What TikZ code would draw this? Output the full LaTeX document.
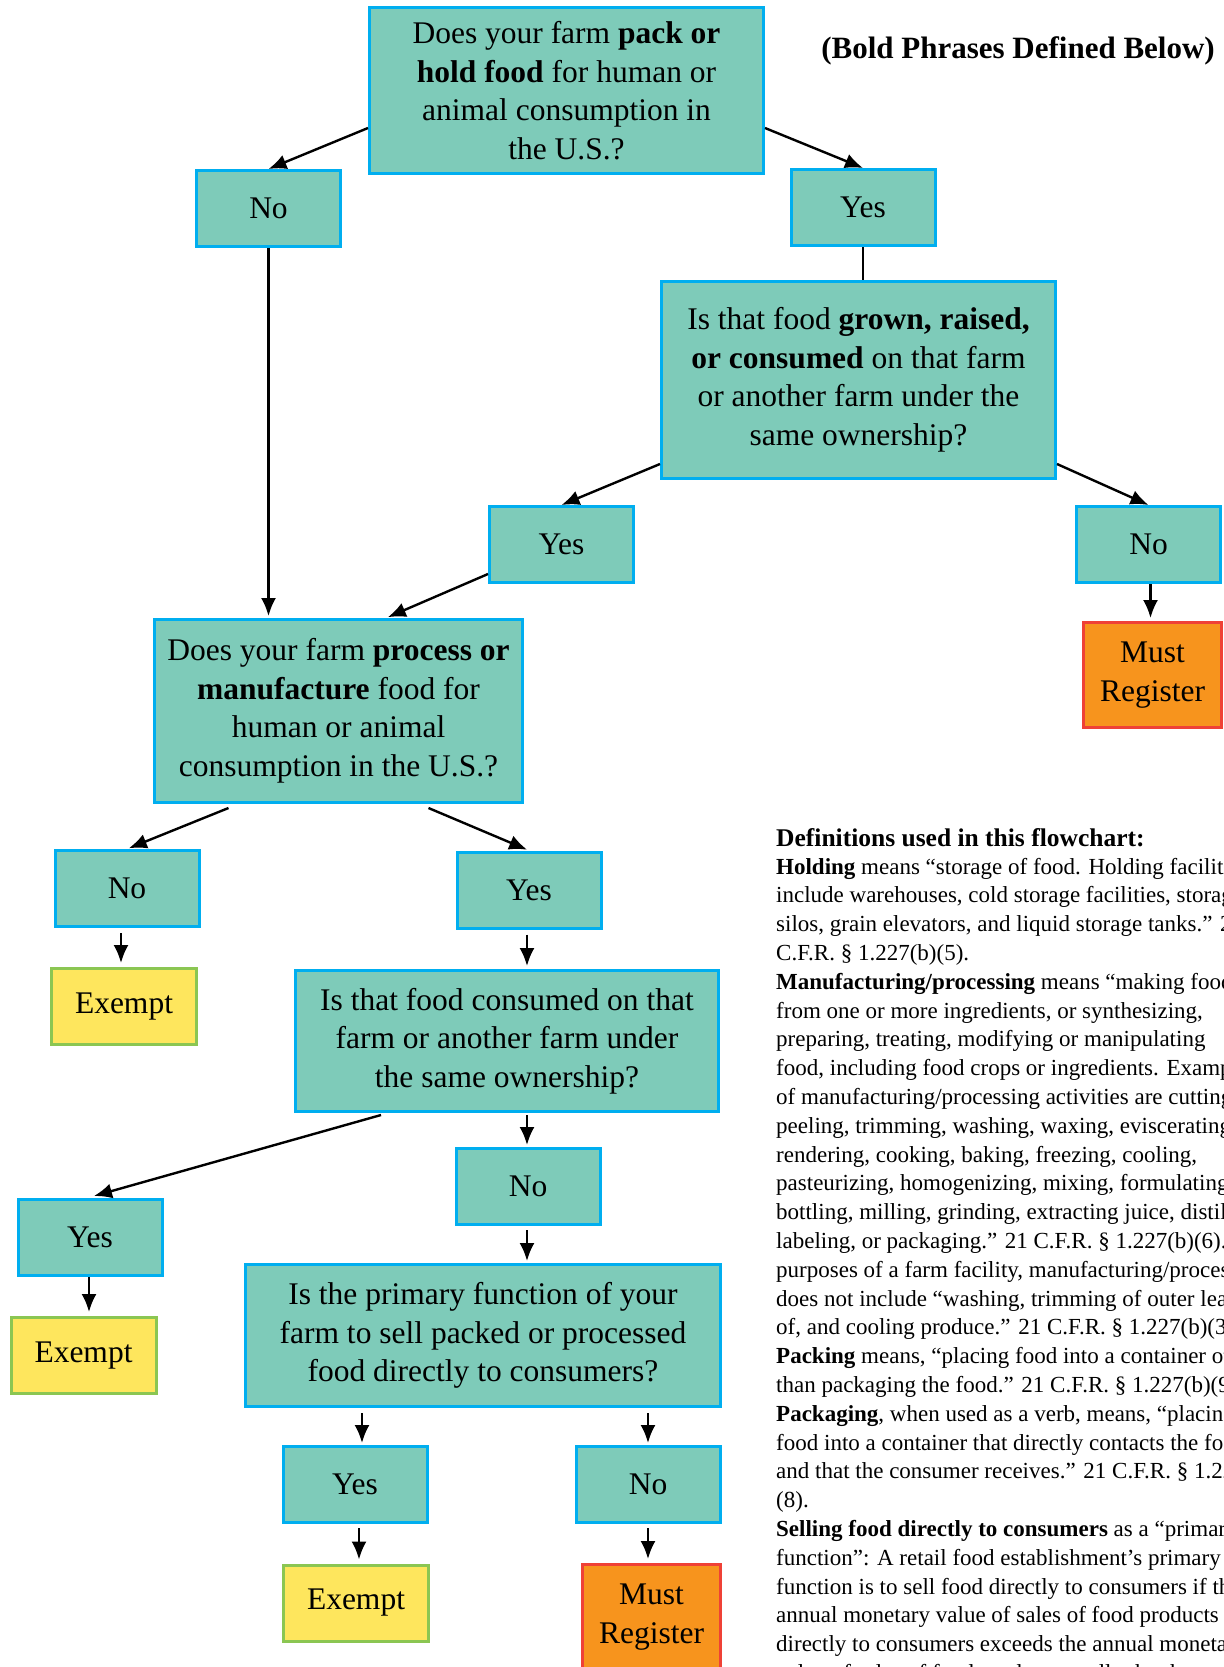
\documentclass[tikz,border=0pt]{standalone}
\usepackage{fontspec}
\setmainfont{Liberation Serif}
\usetikzlibrary{arrows.meta,calc}
\definecolor{tealfill}{HTML}{7ECBB9}
\definecolor{cyanline}{HTML}{00AEEF}
\definecolor{yellowfill}{HTML}{FEE65D}
\definecolor{greenline}{HTML}{8BC652}
\definecolor{orangefill}{HTML}{F7941D}
\definecolor{redline}{HTML}{EF4136}
\begin{document}
\begin{tikzpicture}[x=1pt,y=-1pt,
  boxtext/.style={align=center, inner sep=0pt, font=\fontsize{31.5}{38.5}\selectfont},
  qbox/.style={boxtext, draw=cyanline, fill=tealfill, line width=3pt},
  ansbox/.style={qbox, minimum width=144pt, minimum height=76pt},
  exbox/.style={boxtext, draw=greenline, fill=yellowfill, line width=3pt, minimum width=145pt, minimum height=76pt},
  regbox/.style={boxtext, draw=redline, fill=orangefill, line width=3pt, minimum width=138pt, minimum height=105pt},
  arr/.style={-{Latex[length=18pt,width=15pt]}, line width=2.4pt},
  plain/.style={line width=2.4pt},
  deftext/.style={align=left, inner sep=0pt, font=\fontsize{23}{28.8}\selectfont}
]
\useasboundingbox (0,0) rectangle (1223,1667);
\fill[white] (0,0) rectangle (1223,1667);
\clip (0,0) rectangle (1223,1667);

% title
\node[inner sep=0pt, anchor=base, font=\fontsize{31}{36}\selectfont\bfseries] (title) at (1018,59) {(Bold Phrases Defined Below)};

% questions
\node[qbox, minimum width=394pt, minimum height=166pt] (q1) at (566.5,90.5)
  {Does your farm \textbf{pack or}\\ \textbf{hold food} for human or\\ animal consumption in\\ the U.S.?};
\node[ansbox] (no1) at (268.5,208.5) {No};
\node[ansbox] (yes1) at (863,207.5) {Yes};
\node[qbox, minimum width=394pt, minimum height=197pt] (q2) at (858.5,380)
  {Is that food \textbf{grown, raised,}\\ \textbf{or consumed} on that farm\\ or another farm under the\\ same ownership?};
\node[ansbox] (yes2) at (561.5,544.5) {Yes};
\node[ansbox] (no2) at (1148.5,544.5) {No};
\node[regbox] (mr1) at (1152.5,675) {Must\\Register};
\node[qbox, minimum width=368pt, minimum height=183pt] (q3) at (338.5,711)
  {Does your farm \textbf{process or}\\ \textbf{manufacture} food for\\ human or animal\\ consumption in the U.S.?};
\node[ansbox] (no3) at (127,888.5) {No};
\node[ansbox] (yes3) at (529,890) {Yes};
\node[exbox] (ex1) at (124,1006.5) {Exempt};
\node[qbox, minimum width=423pt, minimum height=141pt] (q4) at (507,1041)
  {Is that food consumed on that\\ farm or another farm under\\ the same ownership?};
\node[ansbox] (no4) at (528,1186.5) {No};
\node[ansbox] (yes4) at (90,1237.5) {Yes};
\node[exbox] (ex2) at (83.5,1355.5) {Exempt};
\node[qbox, minimum width=475pt, minimum height=142pt] (q5) at (483,1335.5)
  {Is the primary function of your\\ farm to sell packed or processed\\ food directly to consumers?};
\node[ansbox] (yes5) at (355,1484.5) {Yes};
\node[ansbox] (no5) at (648,1484.5) {No};
\node[exbox] (ex3) at (356,1603) {Exempt};
\node[regbox] (mr2) at (651.5,1617) {Must\\Register};

% connectors
\draw[arr] ([yshift=-37.5pt]q1.west) -- (no1.north);
\draw[arr] ([yshift=-37.5pt]q1.east) -- (yes1.north);
\draw[plain] (yes1.south) -- (yes1.south |- q2.north);
\draw[arr] ([yshift=-84pt]q2.west) -- (yes2.north);
\draw[arr] ([yshift=-84pt]q2.east) -- (no2.north);
\draw[arr, shorten >=3pt] ([xshift=2pt]no2.south) -- ([xshift=2pt]no2.south |- mr1.north);
\draw[arr, shorten >=2pt] (no1.south) -- (no1.south |- q3.north);
\draw[arr, shorten >=2pt] ([yshift=-29.5pt]yes2.west) -- ([xshift=47.5pt]q3.north);
\draw[arr, shorten >=2pt] ([xshift=-110pt,yshift=-4pt]q3.south) -- (no3.north);
\draw[arr, shorten >=2pt] ([xshift=90pt,yshift=-4pt]q3.south) -- (yes3.north);
\draw[arr, shorten <=5pt, shorten >=4pt] ([xshift=-6pt]no3.south) -- ([xshift=-6pt]no3.south |- ex1.north);
\draw[arr, shorten <=5pt, shorten >=3pt] ([xshift=-2pt]yes3.south) -- ([xshift=-2pt]yes3.south |- q4.north);
\draw[arr] ([xshift=-126pt,yshift=-2pt]q4.south) -- ([xshift=4pt,yshift=2pt]yes4.north);
\draw[arr, shorten <=2pt, shorten >=2pt] ([xshift=-1pt]no4.north |- q4.south) -- ([xshift=-1pt]no4.north);
\draw[arr, shorten <=4pt, shorten >=2pt] ([xshift=-1pt]no4.south) -- ([xshift=-1pt]no4.south |- q5.north);
\draw[arr, shorten >=4pt] ([xshift=-1pt]yes4.south) -- ([xshift=-1pt]yes4.south |- ex2.north);
\draw[arr, shorten <=5pt, shorten >=2pt] ([xshift=7pt]yes5.north |- q5.south) -- ([xshift=7pt]yes5.north);
\draw[arr, shorten <=5pt, shorten >=2pt] (no5.north |- q5.south) -- (no5.north);
\draw[arr, shorten <=4pt, shorten >=4pt] ([xshift=4pt]yes5.south) -- ([xshift=4pt]yes5.south |- ex3.north);
\draw[arr, shorten <=4pt, shorten >=4pt] (no5.south) -- (no5.south |- mr2.north);

% definitions
\node[inner sep=0pt, anchor=base west, font=\fontsize{25.5}{30}\selectfont\bfseries] (defhead) at (776,846) {Definitions used in this flowchart:};
\node[deftext, anchor=base west] (defs) at (776,1680.4) {%
\textbf{Holding} means “storage of food. Holding facilities\\
include warehouses, cold storage facilities, storage\\
silos, grain elevators, and liquid storage tanks.” 21\\
C.F.R. § 1.227(b)(5).\\
\textbf{Manufacturing/processing} means “making food\\
from one or more ingredients, or synthesizing,\\
preparing, treating, modifying or manipulating\\
food, including food crops or ingredients. Examples\\
of manufacturing/processing activities are cutting,\\
peeling, trimming, washing, waxing, eviscerating,\\
rendering, cooking, baking, freezing, cooling,\\
pasteurizing, homogenizing, mixing, formulating,\\
bottling, milling, grinding, extracting juice, distilling,\\
labeling, or packaging.” 21 C.F.R. § 1.227(b)(6). For\\
purposes of a farm facility, manufacturing/processing\\
does not include “washing, trimming of outer leaves\\
of, and cooling produce.” 21 C.F.R. § 1.227(b)(3).\\
\textbf{Packing} means, “placing food into a container other\\
than packaging the food.” 21 C.F.R. § 1.227(b)(9).\\
\textbf{Packaging}, when used as a verb, means, “placing\\
food into a container that directly contacts the food\\
and that the consumer receives.” 21 C.F.R. § 1.227(b)\\
(8).\\
\textbf{Selling food directly to consumers} as a “primary\\
function”: A retail food establishment’s primary\\
function is to sell food directly to consumers if the\\
annual monetary value of sales of food products\\
directly to consumers exceeds the annual monetary\\
value of sales of food products to all other buyers.};
\end{tikzpicture}
\end{document}
